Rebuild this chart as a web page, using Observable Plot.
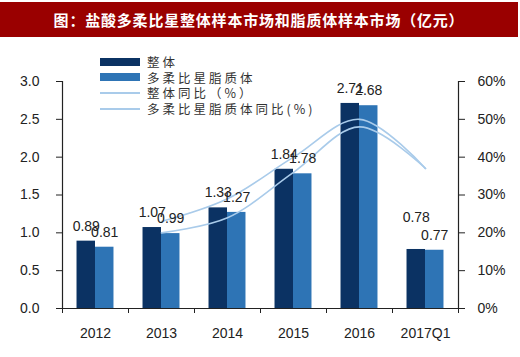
<!DOCTYPE html>
<html><head><meta charset="utf-8">
<script src="https://cdn.jsdelivr.net/npm/d3@7"></script>
<script src="https://cdn.jsdelivr.net/npm/@observablehq/plot@0.6"></script>
<style>
body{margin:0;background:#fff;width:520px;height:357px;overflow:hidden;position:relative;font-family:"Liberation Sans",Arial,sans-serif}
#title{position:absolute;left:0;top:2px;width:518px;height:35px;background:#9a0000;color:#fff;font:bold 15px "Noto Sans CJK SC",sans-serif;letter-spacing:0.8px;text-align:center;line-height:35px}
#chart{position:absolute;left:0;top:37px}
#legend{position:absolute;left:100px;top:54px;font:12.5px "Noto Sans CJK SC",sans-serif;color:#333;letter-spacing:3px}
.row{display:flex;align-items:center;height:15.6px}
.sw{width:40px;margin-right:7px}
</style></head><body>
<div id="title"></div>
<div id="chart"></div>
<div id="legend"></div>
<script>
const titleText = "图：盐酸多柔比星整体样本市场和脂质体样本市场（亿元）";
const years = ["2012","2013","2014","2015","2016","2017Q1"];
const overall = [0.89,1.07,1.33,1.84,2.71,0.78];
const liposome = [0.81,0.99,1.27,1.78,2.68,0.77];
const overallYoY = [null,20,24,36,48,37];
const liposomeYoY = [null,23,29,40,50,37];
const leftTicks = [0,0.5,1,1.5,2,2.5,3];
const rightTicks = [0,10,20,30,40,50,60];
const seriesNames = ["整体","多柔比星脂质体","整体同比（%）","多柔比星脂质体同比(%)"];
const colors = ["#0b3263","#2e74b5","#a9cbea","#a9cbea"];

document.getElementById("title").textContent = titleText;

const W = 0.28;      // bar width in category units
const pctToY = p => p / 20;  // 60% maps to 3.0 on the shared y scale

const bars = years.flatMap((yr, i) => [
  {i, s: 0, v: overall[i], x1: i + 0.5 - W, x2: i + 0.5},
  {i, s: 1, v: liposome[i], x1: i + 0.5, x2: i + 0.5 + W}
]);
const mkLine = arr => years.map((yr, i) => ({x: i + 0.5, y: arr[i] == null ? null : pctToY(arr[i])})).filter(d => d.y != null);
const lineA = mkLine(overallYoY);
const lineB = mkLine(liposomeYoY);
const boundaries = years.map((_, i) => i).concat(years.length);
const centers = years.map((_, i) => i + 0.5);

const isLift = d => d.s === 0 && d.i === years.length - 1;

const chart = Plot.plot({
  width: 520, height: 320,
  marginLeft: 62, marginRight: 62, marginTop: 44, marginBottom: 49,
  style: {fontFamily: "'Liberation Sans', Arial, sans-serif", fontSize: "14px", color: "#222", background: "transparent"},
  x: {domain: [0, years.length], axis: null},
  y: {domain: [0, 3], axis: null},
  marks: [
    Plot.rectY(bars, {x1: "x1", x2: "x2", y1: 0, y2: "v", fill: d => colors[d.s]}),
    Plot.line(lineA, {x: "x", y: "y", stroke: colors[2], strokeWidth: 1.6, curve: "catmull-rom"}),
    Plot.line(lineB, {x: "x", y: "y", stroke: colors[3], strokeWidth: 1.6, curve: "catmull-rom"}),
    Plot.text(bars.filter(d => !isLift(d)), {x: d => (d.x1 + d.x2) / 2, y: "v", text: d => d.v.toFixed(2), dy: -15, fontSize: 14, fill: "#222"}),
    Plot.text(bars.filter(isLift), {x: d => (d.x1 + d.x2) / 2, y: "v", text: d => d.v.toFixed(2), dy: -32, fontSize: 14, fill: "#222"}),
    Plot.ruleX([0, years.length], {stroke: "#222", strokeWidth: 1.2}),
    Plot.ruleY([0], {stroke: "#222", strokeWidth: 1.2}),
    Plot.axisY({ticks: leftTicks, anchor: "left", tickSize: 6, tickPadding: 17, tickFormat: d3.format(".1f"), label: null, fontSize: 14, stroke: "#222"}),
    Plot.axisY({ticks: rightTicks.map(pctToY), anchor: "right", tickSize: 6, tickPadding: 13, tickFormat: d => Math.round(d * 20) + "%", label: null, fontSize: 14, stroke: "#222"}),
    Plot.axisX({ticks: boundaries, anchor: "bottom", tickSize: 5, tickFormat: () => "", label: null, stroke: "#222"}),
    Plot.axisX({ticks: centers, anchor: "bottom", tickSize: 0, tickPadding: 20, tickFormat: d => years[Math.floor(d)], label: null, fontSize: 14})
  ]
});
document.getElementById("chart").appendChild(chart);

const legend = document.getElementById("legend");
seriesNames.forEach((name, k) => {
  const row = document.createElement("div");
  row.className = "row";
  const sw = document.createElement("div");
  sw.className = "sw";
  if (k < 2) { sw.style.height = "8px"; sw.style.background = colors[k]; }
  else { sw.style.height = "2px"; sw.style.background = colors[k]; }
  const t = document.createElement("span");
  t.textContent = name;
  row.appendChild(sw); row.appendChild(t);
  legend.appendChild(row);
});
</script>
</body></html>
